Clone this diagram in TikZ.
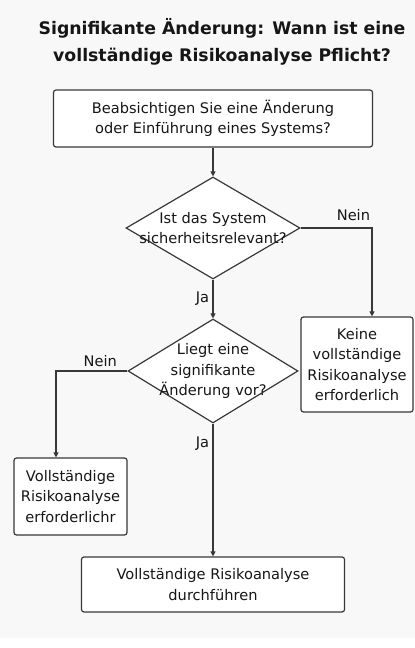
\documentclass[tikz,border=0pt]{standalone}
\usepackage{fontspec}
\setmainfont{DejaVu Sans}
\usepackage{xcolor}
\usetikzlibrary{shapes, arrows.meta, positioning, calc}
\definecolor{bgcol}{HTML}{F8F8F8}
\definecolor{linecol}{HTML}{383838}
\definecolor{txtcol}{HTML}{161616}

\begin{document}
\begin{tikzpicture}[x=10pt, y=10pt,
    box/.style={draw=linecol, fill=white, rounded corners=2.5pt, line width=1.2pt, align=center, inner sep=0pt, text=txtcol, font=\fontsize{14.6}{20.5}\selectfont},
    dec/.style={draw=linecol, fill=white, diamond, line width=1.2pt, inner sep=0pt},
    lbl/.style={text=txtcol, font=\fontsize{14.6}{20.5}\selectfont},
    flow/.style={-{Triangle[length=5pt, width=5pt]}, draw=linecol, line width=1.2pt}]

      \fill[bgcol] (0,0) rectangle (41.5,64.8);
      \fill[white] (0,0) rectangle (41.5,1.0);
      \useasboundingbox (0,0) rectangle (41.5,64.8);

      \node[text=txtcol, align=center, font=\bfseries\fontsize{17.3}{27}\selectfont] (title) at (22.2,60.65) {Signifikante Änderung: Wann ist eine\\vollständige Risikoanalyse Pflicht?};

      \node[box, minimum width=319pt, minimum height=57pt] (start) at (21.3,52.95) {Beabsichtigen Sie eine Änderung\\oder Einführung eines Systems?};
      \node[dec, minimum width=174pt, minimum height=102pt, label={[lbl, align=center]center:Ist das System\\sicherheitsrelevant?}] (relevant) at (21.3,42.0) {};
      \node[box, minimum width=112pt, minimum height=95pt] (keine) at (35.7,28.35) {Keine\\vollständige\\Risikoanalyse\\erforderlich};
      \node[dec, minimum width=170pt, minimum height=104pt, label={[lbl, align=center]center:Liegt eine\\signifikante\\Änderung vor?}] (signif) at (21.3,27.7) {};
      \node[box, minimum width=113pt, minimum height=77pt] (voll) at (7.05,15.15) {Vollständige\\Risikoanalyse\\erforderlichr};
      \node[box, minimum width=263pt, minimum height=55pt] (durch) at (21.3,6.35) {Vollständige Risikoanalyse\\durchführen};

      \draw[flow] (start) -- (relevant);
      \draw[flow] (relevant) -- node[lbl, left, pos=.5] {Ja} (signif);
      \draw[flow] (relevant.east) -| node[lbl, above, pos=.37, yshift=3pt] {Nein} ([xshift=15pt]keine.north);
      \draw[flow] (signif.west) -| node[lbl, above, pos=.19] {Nein} ([xshift=-14.5pt]voll.north);
      \draw[flow] (signif) -- node[lbl, left, pos=.15] {Ja} (durch);
    \end{tikzpicture}
\end{document}
